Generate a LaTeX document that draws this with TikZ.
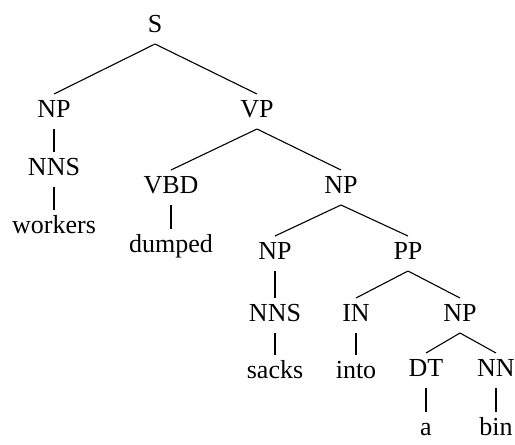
\documentclass[tikz,border=0pt]{standalone}
\usepackage{fontspec}
\setmainfont{Liberation Serif}

\begin{document}
\begin{tikzpicture}[x=1pt,y=-1pt,
    lbl/.style={anchor=base,inner sep=0,outer sep=0,text height=23pt,text depth=12pt,font=\rmfamily\fontsize{26}{30}\selectfont},
    branch/.style={line width=1.1pt}]
    \useasboundingbox (0,0) rectangle (515,445);
    \node[lbl] (s) at (155,32) {S};
    \node[lbl] (np1) at (54,117) {NP};
    \node[lbl] (vp) at (257,117) {VP};
    \node[lbl] (nns1) at (54,175) {NNS};
    \node[lbl] (workers) at (54,233) {workers};
    \node[lbl] (vbd) at (171,193) {VBD};
    \node[lbl] (dumped) at (171,252) {dumped};
    \node[lbl] (np2) at (341,193) {NP};
    \node[lbl] (np3) at (275,259) {NP};
    \node[lbl] (pp) at (408,259) {PP};
    \node[lbl] (nns2) at (275,321) {NNS};
    \node[lbl] (sacks) at (275,378) {sacks};
    \node[lbl] (in) at (356,321) {IN};
    \node[lbl] (into) at (356,378) {into};
    \node[lbl] (np4) at (460,321) {NP};
    \node[lbl] (dt) at (426,376) {DT};
    \node[lbl] (nn) at (496,376) {NN};
    \node[lbl] (a) at (426,435) {a};
    \node[lbl] (bin) at (496,435) {bin};
    \draw[branch] (s.south) -- (np1.north);
    \draw[branch] (s.south) -- (vp.north);
    \draw[branch] (np1.south) -- (nns1.north);
    \draw[branch] (nns1.south) -- (workers.north);
    \draw[branch] (vp.south) -- (vbd.north);
    \draw[branch] (vp.south) -- (np2.north);
    \draw[branch] (vbd.south) -- (dumped.north);
    \draw[branch] (np2.south) -- (np3.north);
    \draw[branch] (np2.south) -- (pp.north);
    \draw[branch] (np3.south) -- (nns2.north);
    \draw[branch] (nns2.south) -- (sacks.north);
    \draw[branch] (pp.south) -- (in.north);
    \draw[branch] (pp.south) -- (np4.north);
    \draw[branch] (in.south) -- (into.north);
    \draw[branch] (np4.south) -- (dt.north);
    \draw[branch] (np4.south) -- (nn.north);
    \draw[branch] (dt.south) -- (a.north);
    \draw[branch] (nn.south) -- (bin.north);
\end{tikzpicture}
\end{document}
